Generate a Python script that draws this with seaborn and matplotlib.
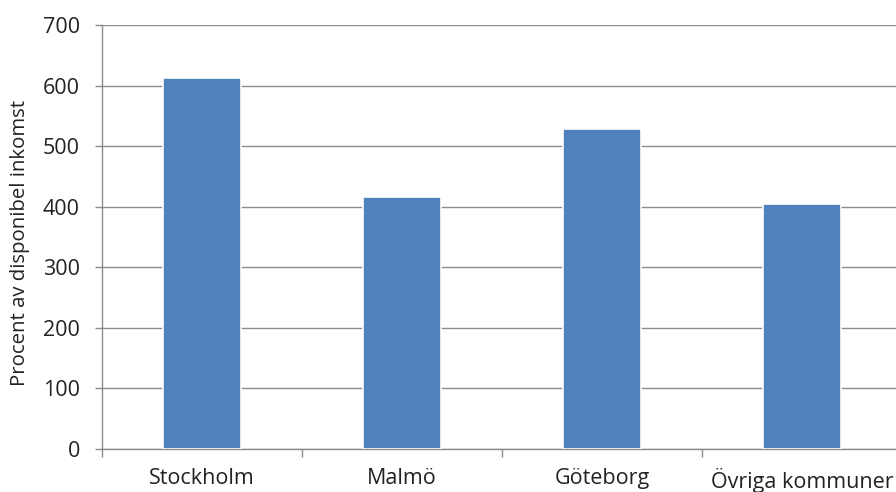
import matplotlib
matplotlib.use("Agg")
import matplotlib.pyplot as plt
import seaborn as sns
import pandas as pd
from matplotlib.ticker import FixedLocator, NullFormatter

categories = ["Stockholm", "Malmö", "Göteborg", "Övriga kommuner"]
values = [612, 416, 528, 404]
y_ticks = [0, 100, 200, 300, 400, 500, 600, 700]
y_label = "Procent av disponibel inkomst"

sns.set_style("white")
plt.rcParams['font.family'] = ['Open Sans', 'DejaVu Sans']

df = pd.DataFrame({"kategori": categories, "varde": values})

fig = plt.figure(figsize=(8.96, 4.92), dpi=100)
ax = fig.add_axes([102/896, 1-449/492, 800/896, 424/492])

sns.barplot(data=df, x="kategori", y="varde", color="#4F81BD", width=0.39,
            edgecolor="white", linewidth=1.2, saturation=1, ax=ax, zorder=3)

ax.set_xlim(-0.5, 3.5)
ax.set_ylim(0, 700)
ax.set_yticks(y_ticks)
ax.set_yticklabels([str(t) for t in y_ticks], fontsize=15.5, color="#222222")
ax.yaxis.grid(True, color="#8c8c8c", linewidth=1.0, zorder=0)
ax.set_axisbelow(True)
ax.set_xlabel("")
ax.set_ylabel(y_label, fontsize=14.7, color="#222222")
ax.yaxis.set_label_coords(-72/800, (449-243)/424)
ax.tick_params(axis="x", length=0, labelsize=15.5, labelcolor="#222222", pad=14)
ax.tick_params(axis="y", length=5, width=1, color="#8c8c8c", pad=11, left=True)
ax.xaxis.set_minor_locator(FixedLocator([-0.5, 0.5, 1.5, 2.5, 3.5]))
ax.xaxis.set_minor_formatter(NullFormatter())
ax.tick_params(axis="x", which="minor", length=6, width=1, color="#8c8c8c", bottom=True)

for s in ["top", "right"]:
    ax.spines[s].set_visible(False)
for s in ["left", "bottom"]:
    ax.spines[s].set_color("#8c8c8c")
    ax.spines[s].set_linewidth(1.0)

fig.savefig("out.png", dpi=100)
